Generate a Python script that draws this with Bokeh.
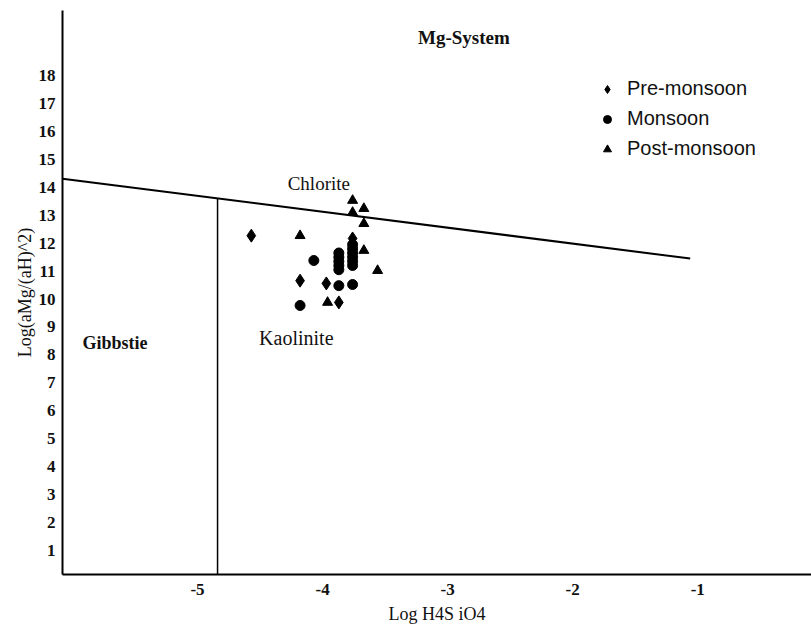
from bokeh.plotting import figure
from bokeh.models import Range1d, FixedTicker, Label, Legend, LegendItem
from bokeh.embed import file_html
from bokeh.resources import INLINE
import math

# ---- data ----
x_ticks = [-5, -4, -3, -2, -1]
x_tick_labels = ["-5", "-4", "-3", "-2", "-1"]
y_ticks = list(range(1, 19))

pre_x = [-4.57, -3.76, -4.18, -3.97, -3.87]
pre_y = [12.27, 12.17, 10.66, 10.56, 9.88]

mon_x = [-4.07, -3.87, -3.87, -3.87, -3.87, -3.87,
         -3.76, -3.76, -3.76, -3.76, -3.76, -3.76,
         -3.87, -3.76, -4.18]
mon_y = [11.38, 11.65, 11.50, 11.35, 11.20, 11.05,
         11.95, 11.80, 11.65, 11.50, 11.35, 11.20,
         10.48, 10.52, 9.77]

post_x = [-3.76, -3.76, -3.67, -3.67, -4.18, -3.67, -3.56, -3.96]
post_y = [13.53, 13.10, 13.24, 12.70, 12.27, 11.74, 11.02, 9.88]

# stability-field boundaries
chlorite_x = [-6.08, -1.06]
chlorite_y = [14.31, 11.45]
gibbsite_x = [-4.84, -4.84]
gibbsite_y = [0.14, 13.62]

SERIF = "Liberation Serif"
SANS = "Liberation Sans"
INK = "#111111"

p = figure(width=811, height=635, output_backend="svg", toolbar_location=None,
           title=None,
           x_range=Range1d(-6.08, -0.09), y_range=Range1d(0.14, 20.33),
           min_border_left=62, min_border_right=0,
           min_border_top=10, min_border_bottom=61)
p.outline_line_color = None
p.background_fill_color = "white"
p.border_fill_color = "white"
p.xgrid.visible = False
p.ygrid.visible = False

for ax in (p.xaxis[0], p.yaxis[0]):
    ax.axis_line_color = "black"
    ax.axis_line_width = 2
    ax.major_tick_line_color = None
    ax.minor_tick_line_color = None
    ax.major_label_text_font = SERIF
    ax.major_label_text_font_style = "bold"
    ax.major_label_text_font_size = "17px"
    ax.major_label_text_color = INK
    ax.axis_label_text_font = SERIF
    ax.axis_label_text_font_style = "normal"
    ax.axis_label_text_font_size = "18px"
    ax.axis_label_text_color = INK

p.xaxis.ticker = FixedTicker(ticks=x_ticks)
p.xaxis.major_label_overrides = dict(zip(x_ticks, x_tick_labels))
p.yaxis.ticker = FixedTicker(ticks=y_ticks)
p.xaxis.major_label_standoff = 3
p.yaxis.major_label_standoff = 1
p.xaxis.axis_label = "Log H4S iO4"
p.xaxis.axis_label_standoff = 6
p.yaxis.axis_label = "Log(aMg/(aH)^2)"
p.yaxis.axis_label_standoff = 1

# boundaries
p.line(chlorite_x, chlorite_y, line_color="black", line_width=2)
p.line(gibbsite_x, gibbsite_y, line_color="black", line_width=1.5)

r_pre = p.scatter(pre_x, pre_y, marker="diamond", size=13,
                  fill_color="black", line_color="black")
r_mon = p.scatter(mon_x, mon_y, marker="circle", size=10,
                  fill_color="black", line_color="black")
r_post = p.scatter(post_x, post_y, marker="triangle", size=10,
                   fill_color="black", line_color="black")

legend = Legend(items=[LegendItem(label="Pre-monsoon", renderers=[r_pre]),
                       LegendItem(label="Monsoon", renderers=[r_mon]),
                       LegendItem(label="Post-monsoon", renderers=[r_post])],
                location=(535, 414))
legend.border_line_color = None
legend.background_fill_alpha = 0
legend.padding = 0
legend.margin = 0
legend.spacing = 7
legend.glyph_height = 20
legend.glyph_width = 20
legend.label_height = 20
legend.label_standoff = 10
legend.label_text_font = SANS
legend.label_text_font_size = "20px"
legend.label_text_color = INK
p.add_layout(legend)

def add_label(x, y, text, size, bold=False):
    p.add_layout(Label(x=x, y=y, text=text, text_align="center",
                       text_baseline="middle", text_font=SERIF,
                       text_font_size=size,
                       text_font_style="bold" if bold else "normal",
                       text_color=INK))

add_label(-2.87, 19.36, "Mg-System", "19px", bold=True)
add_label(-4.03, 14.13, "Chlorite", "19px")
add_label(-4.21, 8.59, "Kaolinite", "20px")
add_label(-5.66, 8.41, "Gibbstie", "18px", bold=True)

open("out.html", "w").write(file_html(p, INLINE))
